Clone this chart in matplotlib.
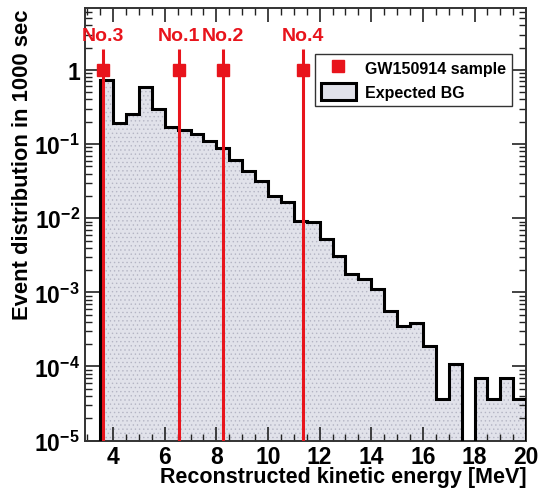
import matplotlib.pyplot as plt
import numpy as np
from matplotlib.lines import Line2D
from matplotlib.patches import Patch
from matplotlib.ticker import FixedLocator, FixedFormatter, MultipleLocator, LogLocator, NullFormatter

plt.rcParams['font.family'] = ['Liberation Sans', 'DejaVu Sans']
plt.rcParams['font.weight'] = 'bold'
plt.rcParams['mathtext.fontset'] = 'custom'
plt.rcParams['mathtext.bf'] = 'Liberation Sans:bold'
plt.rcParams['mathtext.rm'] = 'Liberation Sans:bold'
plt.rcParams['hatch.linewidth'] = 0.5

# Data: expected background, 0.5 MeV bins from 3.5 to 20 MeV
bin_edges = np.arange(3.5, 20.01, 0.5)
bg_counts = np.array([0.73, 0.19, 0.254, 0.595, 0.30, 0.168, 0.156, 0.136, 0.111, 0.0875,
                      0.061, 0.0436, 0.0319, 0.020, 0.0166, 0.0092, 0.0089, 0.0052, 0.0031,
                      0.00175, 0.0015, 0.0011, 0.00056, 0.00035, 0.00038, 0.000188, 3.6e-5,
                      1.07e-4, 0, 7.0e-5, 3.6e-5, 7.0e-5, 3.6e-5])

# GW150914 sample events
event_names = ['No.1', 'No.2', 'No.3', 'No.4']
event_energy = [6.56, 8.24, 3.6, 11.35]
event_height = [1, 1, 1, 1]

ytick_values = [1e-5, 1e-4, 1e-3, 1e-2, 1e-1, 1]
ytick_labels = [r'$\mathbf{10^{-5}}$', r'$\mathbf{10^{-4}}$', r'$\mathbf{10^{-3}}$',
                r'$\mathbf{10^{-2}}$', r'$\mathbf{10^{-1}}$', '1']
xtick_values = [4, 6, 8, 10, 12, 14, 16, 18, 20]

red = '#e8141c'
fill_col = '#e1e2ea'

fig = plt.figure(figsize=(5.43, 4.89), dpi=100)
ax = fig.add_axes([0.156, 0.097, 0.813, 0.884])
ax.set_yscale('log')

draw_counts = np.where(bg_counts > 0, bg_counts, 1e-9)
ax.stairs(draw_counts, bin_edges, baseline=1e-9, fill=True, facecolor=fill_col,
          edgecolor='#b4b5c4', hatch='....', lw=0)
ax.stairs(draw_counts, bin_edges, baseline=1e-9, fill=False, color='black', lw=2.2, zorder=3)

for name, e, h in zip(event_names, event_energy, event_height):
    ax.vlines(e, 1e-5, 1.9, color=red, lw=2.2, zorder=4)
    ax.plot(e, h, 's', ms=8, color=red, zorder=5)
    ax.text(e, 2.95, name, color=red, ha='center', va='center', fontsize=14,
            fontweight='bold')

ax.set_xlim(2.9, 20)
ax.set_ylim(1e-5, 6.8)

ax.xaxis.set_major_locator(FixedLocator(xtick_values))
ax.xaxis.set_minor_locator(MultipleLocator(0.5))
ax.yaxis.set_major_locator(FixedLocator(ytick_values))
ax.yaxis.set_major_formatter(FixedFormatter(ytick_labels))
ax.yaxis.set_minor_locator(LogLocator(base=10, subs=np.arange(2, 10)))
ax.yaxis.set_minor_formatter(NullFormatter())
ax.tick_params(which='both', direction='in', top=True, right=True, labelsize=16.5,
               colors='#222222', labelcolor='black')
ax.tick_params(axis='x', which='major', pad=3)
ax.tick_params(which='major', length=10, width=1.2)
ax.tick_params(which='minor', length=5, width=1.0)
for sp in ax.spines.values():
    sp.set_linewidth(1.4)
    sp.set_color('#333333')

ax.set_xlabel('Reconstructed kinetic energy [MeV]', fontsize=15.5, fontweight='bold',
              loc='right', labelpad=-1.5)
ax.set_ylabel('Event distribution in 1000 sec', fontsize=15.8, fontweight='bold',
              loc='top', labelpad=0.5)

handles = [Line2D([], [], marker='s', ms=8, color=red, ls='none'),
           Patch(facecolor=fill_col, edgecolor='black', lw=2.2)]
leg = ax.legend(handles, ['GW150914 sample', 'Expected BG'], loc='upper right',
                bbox_to_anchor=(0.968, 0.894), borderaxespad=0, fancybox=False,
                edgecolor='#333333', framealpha=1, prop={'weight': 'bold', 'size': 11.5},
                handlelength=2.2, handleheight=1.2, borderpad=0.35, labelspacing=0.45,
                handletextpad=0.6)
leg.get_frame().set_linewidth(1.0)

fig.savefig('out.png', dpi=100)
